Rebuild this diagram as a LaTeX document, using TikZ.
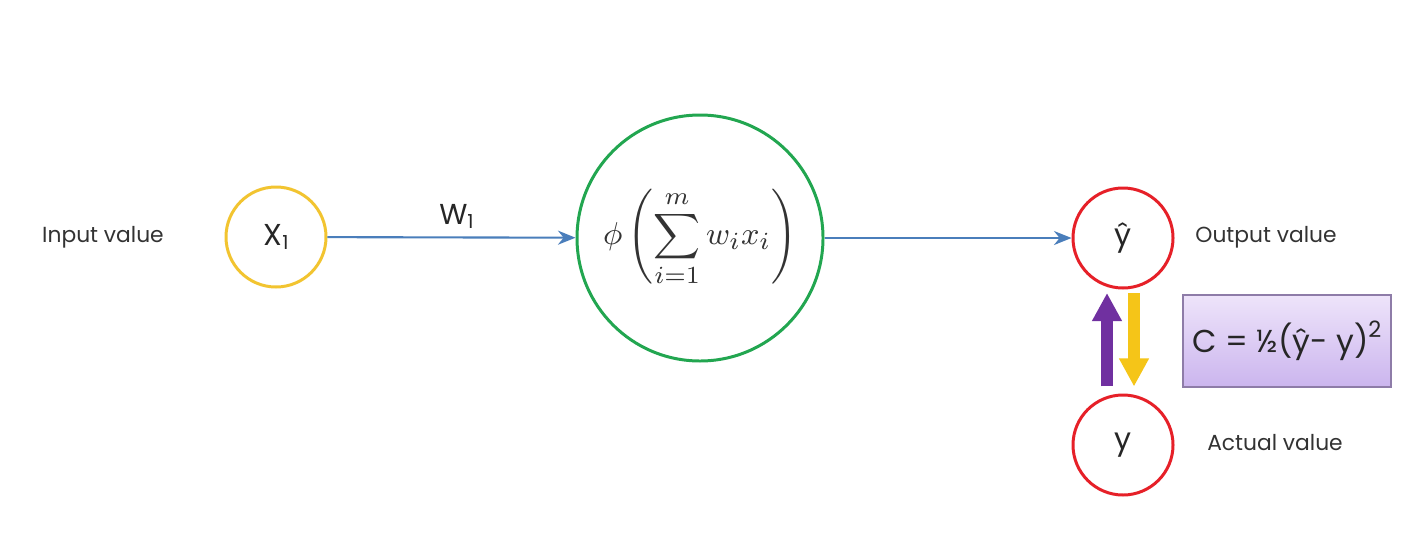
\documentclass[tikz,border=0pt]{standalone}
\usepackage{fontspec}
\setmainfont{Poppins}
\usepackage{amsmath}
\definecolor{inyellow}{RGB}{242,196,48}
\definecolor{sumgreen}{RGB}{34,166,80}
\definecolor{outred}{RGB}{230,32,40}
\definecolor{linkblue}{RGB}{74,126,187}
\definecolor{backpurple}{RGB}{112,48,160}
\definecolor{fwdyellow}{RGB}{245,197,24}
\definecolor{boxtop}{RGB}{238,228,250}
\definecolor{boxbottom}{RGB}{203,181,238}
\definecolor{boxedge}{RGB}{142,124,168}
\usetikzlibrary{arrows.meta,positioning}
\tikzset{
    neuron/.style={
           circle,
           draw, line width=0.85pt,
           fill=white,
           text centered,
           inner sep=0pt,
           },
    link/.style={-{Stealth[length=5pt,width=4pt]}, draw=linkblue, line width=0.6pt},
    fat/.style={-{Triangle[length=8pt,width=8pt]}, line width=3.4pt},
    caption/.style={font=\fontsize{6.2}{7}\selectfont, text=black!80},
}
\newcommand{\sub}[1]{\raisebox{-0.25ex}{\fontsize{5.5}{6}\selectfont #1}}
\newcommand{\sq}{\raisebox{0.85ex}{\fontsize{6.4}{7}\selectfont 2}}
\begin{document}
\begin{tikzpicture}
      \useasboundingbox[fill=white] (0,0) rectangle (14.06,5.42);
      \node[neuron, draw=inyellow, minimum size=1.0cm, font=\fontsize{8.6}{10}\selectfont, text=black!85] (X) at (2.76, 3.05) {X\sub{1}};
      \node[neuron, draw=sumgreen, minimum size=2.46cm, text=black!80] (S) at (7.00, 3.04)
            {\fontsize{9.4}{11}\selectfont $\displaystyle \phi\left(\sum_{i=1}^{m} w_i x_i\right)$};
      \node[neuron, draw=outred, minimum size=1.0cm, font=\fontsize{8.6}{10}\selectfont, text=black!85] (Yh) at (11.23, 3.04) {ŷ};
      \node[neuron, draw=outred, minimum size=1.0cm, font=\fontsize{8.6}{10}\selectfont, text=black!85] (Y) at (11.23, 0.97) {y};
      \node[caption] (In) at (1.03, 3.05) {Input value};
      \node[caption] (Out) at (12.66, 3.05) {Output value};
      \node[caption] (Act) at (12.75, 0.99) {Actual value};
      \node[rectangle, draw=boxedge, line width=0.5pt, top color=boxtop, bottom color=boxbottom,
            minimum width=2.08cm, minimum height=0.92cm, inner xsep=2pt, font=\fontsize{9}{11}\selectfont, text=black!85]
            (C) at (12.87, 2.01) {C = ½(ŷ- y)\sq};
      \draw[link] (X) -- node[above=-1pt, font=\fontsize{8.2}{10}\selectfont, text=black!85, xshift=0.05cm]{W\sub{1}} (S);
      \draw[link] (S) -- (Yh);
      \draw[fat, backpurple, shorten <=2pt, shorten >=1pt] ([xshift=-0.16cm]Y.north) -- ([xshift=-0.16cm]Yh.south);
      \draw[fat, fwdyellow, shorten <=1pt, shorten >=2pt] ([xshift=0.11cm]Yh.south) -- ([xshift=0.11cm]Y.north);
    \end{tikzpicture}
\end{document}
